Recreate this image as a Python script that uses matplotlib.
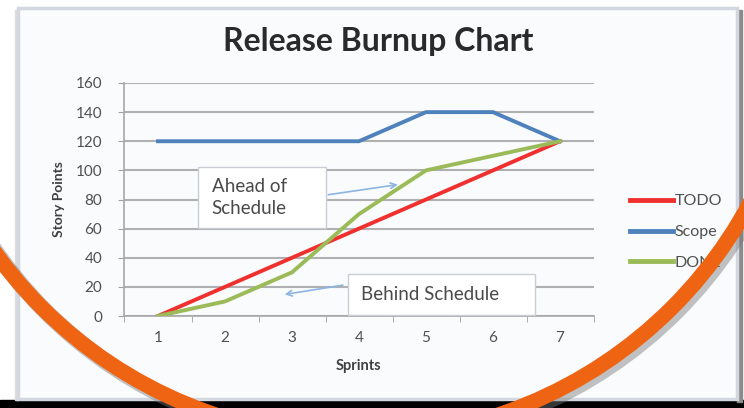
import numpy as np
import matplotlib
matplotlib.use("Agg")
import matplotlib.pyplot as plt
from matplotlib.patches import Rectangle, Circle

plt.rcParams['font.family'] = ['Lato', 'DejaVu Sans']

# data
sprints = [1, 2, 3, 4, 5, 6, 7]
todo = [0, 20, 40, 60, 80, 100, 120]
scope = [120, 120, 120, 120, 140, 140, 120]
done = [0, 10, 30, 70, 100, 110, 120]
y_ticks = [0, 20, 40, 60, 80, 100, 120, 140, 160]

W, H = 744, 408
fig = plt.figure(figsize=(W / 100, H / 100), dpi=100, facecolor='white')

# background: screenshot frame + black strip at bottom
bg = fig.add_axes([0, 0, 1, 1], zorder=0)
bg.set_xlim(0, W)
bg.set_ylim(H, 0)
bg.axis('off')
bg.add_patch(Rectangle((0, 400), W, 8, color='black'))
bg.add_patch(Rectangle((737, 10), 5, 392, color='#8a8a8a'))
bg.add_patch(Rectangle((15, 10), 3, 390, color='#dcdde0'))
bg.add_patch(Rectangle((18, 8), 719, 391, facecolor='#f9fbfd', edgecolor='#d3d8e0', lw=2.5))


def px(x0, y0, x1, y1):
    return [x0 / W, 1 - y1 / H, (x1 - x0) / W, (y1 - y0) / H]


ax = fig.add_axes(px(124.5, 83, 593.5, 316), zorder=1)
ax.patch.set_alpha(0)
ax.plot(sprints, todo, color='#f0302e', lw=2.8, label='TODO', zorder=3)
ax.plot(sprints, scope, color='#4f81bd', lw=2.8, label='Scope', zorder=3)
ax.plot(sprints, done, color='#9bbb59', lw=2.8, label='DONE', zorder=3)

ax.set_xlim(0.5, 7.5)
ax.set_ylim(0, 160)
ax.set_yticks(y_ticks)
ax.set_xticks(sprints)
ax.set_xticks(np.arange(0.5, 8, 1), minor=True)
ax.tick_params(axis='x', which='major', length=0, pad=11, labelsize=11, labelcolor='#505050')
ax.tick_params(axis='x', which='minor', length=4, color='#a0a0a0', direction='out')
ax.tick_params(axis='y', length=4, color='#a0a0a0', labelsize=11, labelcolor='#505050', pad=12)
ax.grid(axis='y', color='#b0b0b0', lw=1.5)
ax.set_axisbelow(True)
for s in ['top', 'right']:
    ax.spines[s].set_visible(False)
ax.spines['left'].set_color('#a8a8a8')
ax.spines['bottom'].set_color('#a8a8a8')
ax.spines['left'].set_linewidth(1.2)
ax.spines['bottom'].set_linewidth(1.2)

ax.set_xlabel('Sprints', fontsize=10.5, fontweight='bold', color='#404040', labelpad=10)
ax.set_ylabel('Story Points', fontsize=10, fontweight='bold', color='#404040', labelpad=8)
fig.text(378 / W, 1 - 42 / H, 'Release Burnup Chart', ha='center', va='center',
         fontsize=23, fontweight='bold', color='#2a2a2a')

# annotation boxes
ax.add_patch(Rectangle((1.6, 60.4), 1.9, 41.9, facecolor='white', edgecolor='#c9cdd5',
                       lw=1, zorder=4))
ax.text(1.8, 81.5, 'Ahead of\nSchedule', ha='left', va='center', fontsize=13.5,
        color='#4a4a4a', linespacing=1.35, zorder=5)
ax.annotate('', xy=(4.62, 90.5), xytext=(3.5, 83), zorder=5,
            arrowprops=dict(arrowstyle='->', color='#8eb4e3', lw=1.2))
ax.add_patch(Rectangle((3.83, 0.5), 2.8, 28, facecolor='white', edgecolor='#c9cdd5',
                       lw=1, zorder=4))
ax.text(4.03, 15, 'Behind Schedule', ha='left', va='center', fontsize=13.5,
        color='#4a4a4a', zorder=5)
ax.annotate('', xy=(2.85, 14.5), xytext=(3.8, 21.5), zorder=5,
            arrowprops=dict(arrowstyle='->', color='#8eb4e3', lw=1.2))

leg = ax.legend(loc='center left', bbox_to_anchor=(622 / W, 1 - 232 / H),
                bbox_transform=fig.transFigure, frameon=False, fontsize=11.5,
                handlelength=2.7, handletextpad=0.1, labelspacing=1.05, borderpad=0)
for t in leg.get_texts():
    t.set_color('#505050')
for l in leg.get_lines():
    l.set_linewidth(3.5)

# orange arc drawn over the chart
ov = fig.add_axes([0, 0, 1, 1], zorder=3)
ov.set_xlim(0, W)
ov.set_ylim(H, 0)
ov.axis('off')
ov.patch.set_alpha(0)
ov.add_patch(Circle((361, -4), 446, fill=False, edgecolor='#7a7a7a', lw=12, alpha=0.45))
ov.add_patch(Circle((357, -8), 446, fill=False, edgecolor='#ef6413', lw=11))

fig.savefig('out.png', dpi=100, facecolor='white')
